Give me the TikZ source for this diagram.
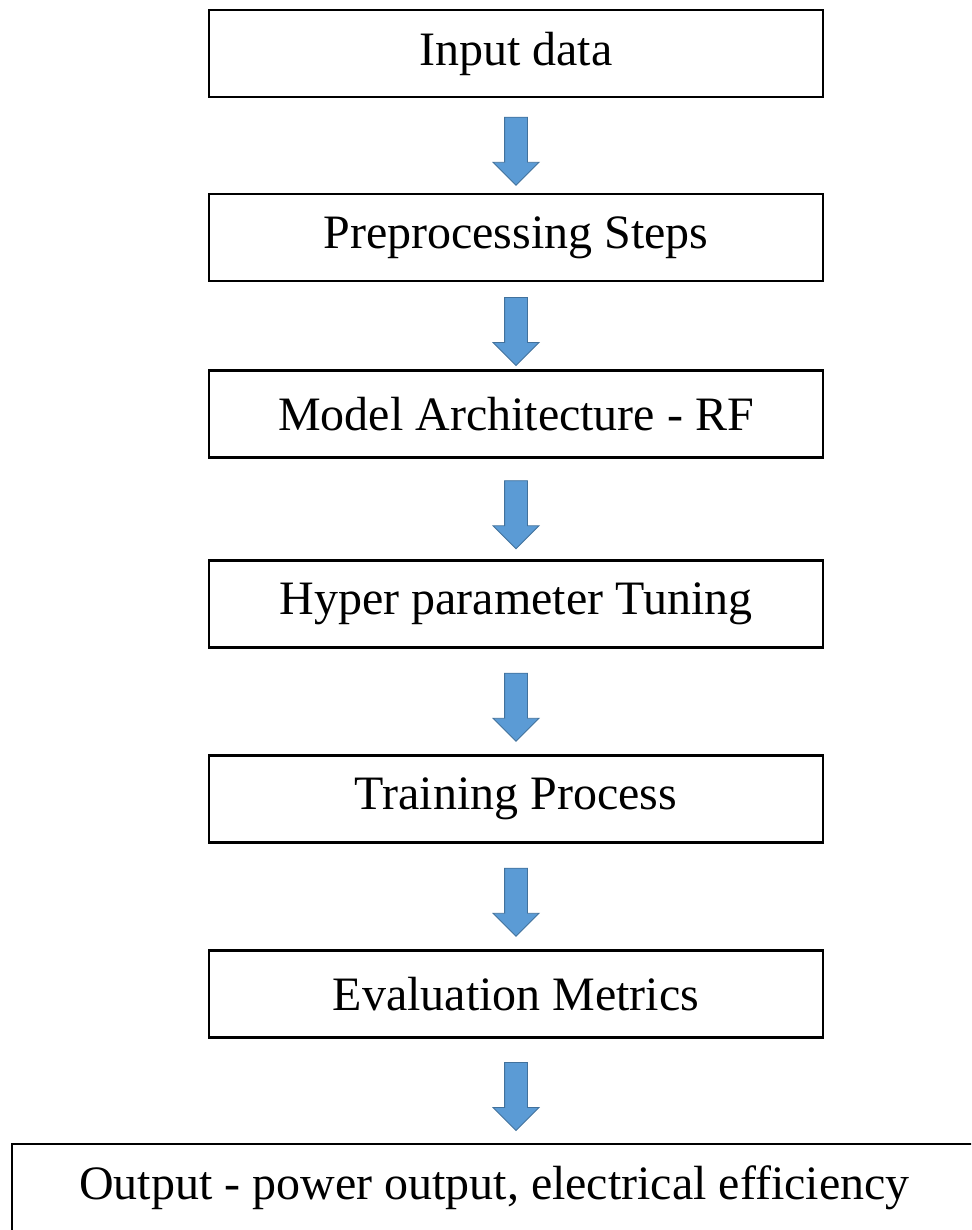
\documentclass[tikz,border=0pt]{standalone}
\usepackage{fontspec}
\setmainfont{Liberation Serif}
\usetikzlibrary{shapes.arrows,calc}
\definecolor{arrowblue}{HTML}{5B9BD5}
\definecolor{arrowedge}{HTML}{41719C}
\tikzset{
    stepbox/.style={draw, line width=1.2pt, minimum width=12.28cm, minimum height=1.74cm,
        font=\fontsize{27.3}{32}\selectfont},
    blockarrow/.style={single arrow, draw=arrowedge, fill=arrowblue, line width=0.5pt,
        shape border rotate=270, minimum height=1.36cm, minimum width=0.9cm,
        single arrow head extend=0.23cm, inner sep=0.22cm, single arrow tip angle=90}
}
\begin{document}
\begin{tikzpicture}
        \useasboundingbox (0,0) rectangle (19.42,-24.6);
        \begin{scope}
        \clip (0,0) rectangle (19.42,-24.6);
        \node[stepbox] (input) at (10.32,-1.07) {Input data};
        \node[stepbox] (prep) at (10.32,-4.75) {Preprocessing Steps};
        \node[stepbox] (model) at (10.32,-8.28) {Model Architecture - RF};
        \node[stepbox] (tune) at (10.32,-12.08) {Hyper parameter Tuning};
        \node[stepbox] (train) at (10.32,-15.98) {Training Process};
        \node[stepbox] (eval) at (10.32,-19.88) {Evaluation Metrics};
        \node[stepbox, minimum width=19.3cm] (out) at (9.89,-23.75) {Output - power output, electrical efficiency};
        \end{scope}
        \foreach \a/\b in {input/prep, prep/model, model/tune, tune/train, train/eval, eval/out} {
            \node[blockarrow] at ($(\a.south)!0.5!(\a.south |- \b.north)$) {};
        }
    \end{tikzpicture}
\end{document}
